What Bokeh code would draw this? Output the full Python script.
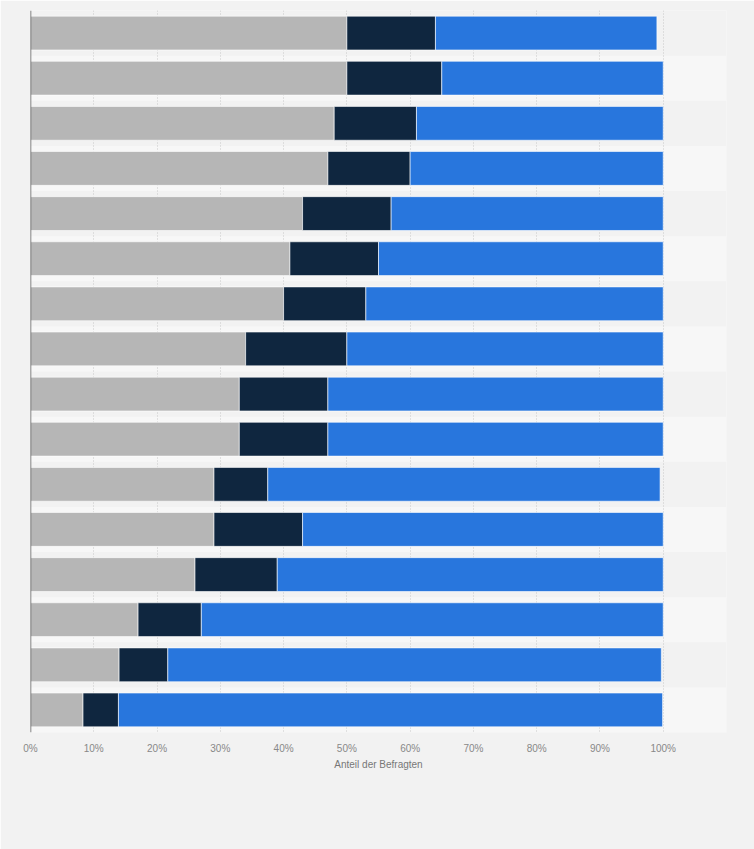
from bokeh.plotting import figure
from bokeh.models import ColumnDataSource, Range1d, FixedTicker, Grid, Span, PrintfTickFormatter
from bokeh.embed import file_html
from bokeh.resources import INLINE

# Data (rows top to bottom), shares in percent
rows = list(range(1, 17))
series_gray = [50, 50, 48, 47, 43, 41, 40, 34, 33, 33, 29, 29, 26, 17, 14, 8.3]
series_dark = [14, 15, 13, 13, 14, 14, 13, 16, 14, 14, 8.5, 14, 13, 10, 7.7, 5.6]
series_blue = [35, 35, 39, 40, 43, 45, 47, 50, 53, 53, 62, 57, 61, 73, 78, 86]
x_ticks = [0, 10, 20, 30, 40, 50, 60, 70, 80, 90, 100]
grid_ticks = [10, 20, 30, 40, 50, 60, 70, 80, 90, 100, 110]
x_label = "Anteil der Befragten"

colors = ["#b6b6b6", "#0f263f", "#2876dd"]
keys = ["gray", "dark", "blue"]

source = ColumnDataSource(dict(y=rows, gray=series_gray, dark=series_dark, blue=series_blue))

p = figure(width=754, height=849, output_backend="svg", toolbar_location=None,
           x_range=Range1d(0, 110), y_range=Range1d(len(rows) + 0.5, 0.5),
           min_border_left=30, min_border_right=28, min_border_top=10, min_border_bottom=117)

p.background_fill_color = "#f2f2f2"
p.border_fill_color = "#f2f2f2"
p.outline_line_color = None

# alternating row bands
p.ygrid.ticker = FixedTicker(ticks=[r + 0.5 for r in rows])
p.ygrid.grid_line_color = None
p.ygrid.band_fill_color = "#f7f7f7"
p.ygrid.band_fill_alpha = 1.0

p.xgrid.grid_line_color = None
vgrid = Grid(dimension=0, ticker=FixedTicker(ticks=grid_ticks),
             grid_line_color="#c8c8c8", grid_line_dash="1 2", grid_line_width=1)
p.add_layout(vgrid)

p.hbar_stack(keys, y="y", height=0.75, color=colors, source=source,
             line_color="white", line_alpha=0.6, line_width=1)

p.yaxis.visible = False
p.add_layout(Span(location=0, dimension="height", line_color="#5f5f5f", line_width=1.5))

ax = p.xaxis[0]
ax.ticker = FixedTicker(ticks=x_ticks)
ax.formatter = PrintfTickFormatter(format="%d%%")
ax.axis_line_color = None
ax.major_tick_line_color = None
ax.minor_tick_line_color = None
ax.major_label_standoff = 4
ax.major_label_text_font = "Liberation Sans"
ax.major_label_text_font_size = "10px"
ax.major_label_text_color = "#888888"
ax.axis_label = x_label
ax.axis_label_text_font = "Liberation Sans"
ax.axis_label_text_font_size = "10px"
ax.axis_label_text_font_style = "normal"
ax.axis_label_text_color = "#777777"
ax.axis_label_standoff = 2

open("out.html", "w").write(file_html(p, INLINE))
